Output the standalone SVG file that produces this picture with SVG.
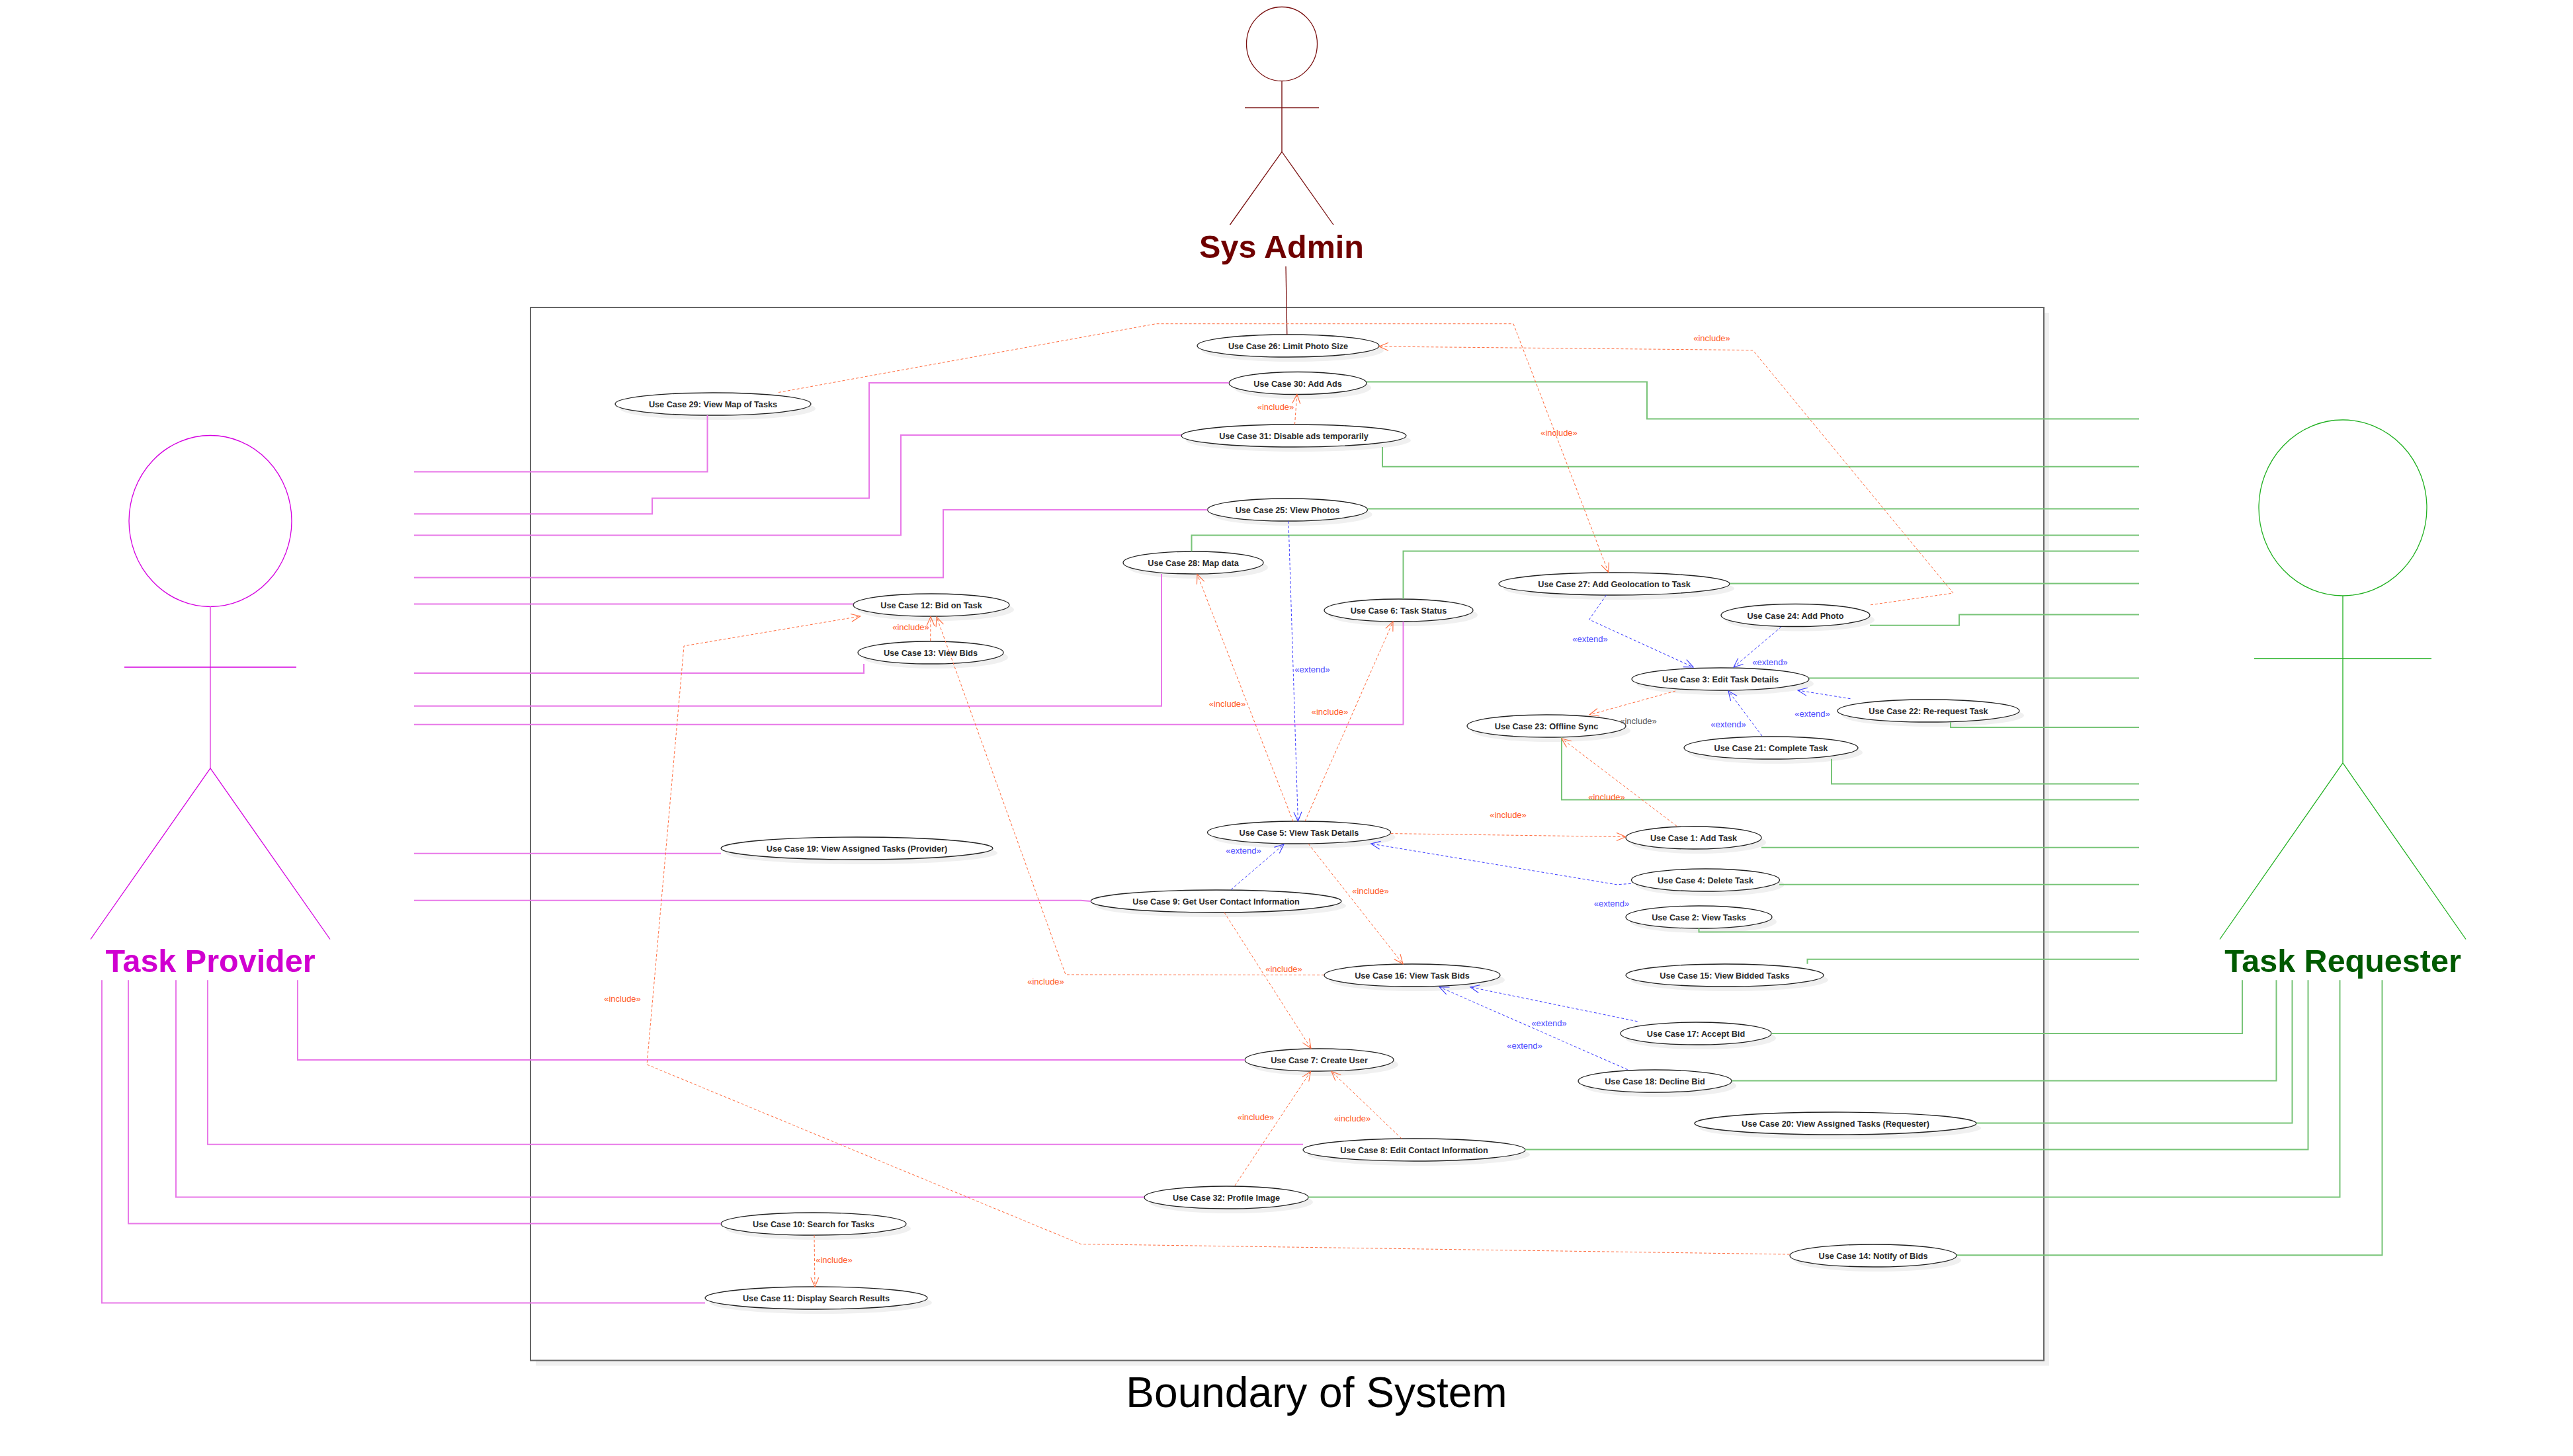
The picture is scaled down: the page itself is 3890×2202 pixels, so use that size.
<svg xmlns="http://www.w3.org/2000/svg" width="3890" height="2202" viewBox="0 0 3890 2202">
<style>
text{font-family:"Liberation Sans",Arial,sans-serif}
.uc{fill:#fff;stroke:#222;stroke-width:1.3}
.sh{fill:#f0f0f0;stroke:none}
.ut{font-size:12.7px;font-weight:bold;fill:#2a2a2a;text-anchor:middle}
.at{font-size:48.5px;font-weight:bold;text-anchor:middle}
.tp{fill:none;stroke:#e878e8;stroke-width:2}
.tr{fill:none;stroke:#78c478;stroke-width:2}
.inc{fill:none;stroke:#ff6a3c;stroke-width:1;stroke-dasharray:4 3;marker-end:url(#ao)}
.ext{fill:none;stroke:#3a3aff;stroke-width:1;stroke-dasharray:4 3;marker-end:url(#ab)}
.li{font-size:13px;fill:#ff5a28;text-anchor:middle}
.le{font-size:13px;fill:#4a4aff;text-anchor:middle}
.lg{font-size:13px;fill:#555;text-anchor:middle}
.a1{fill:none;stroke:#d400e0;stroke-width:1.3}
.a1b{fill:none;stroke:#e878e8;stroke-width:2}
.a2{fill:none;stroke:#20b020;stroke-width:1.3}
.a3{fill:none;stroke:#7a1010;stroke-width:1.3}
.a3b{fill:none;stroke:#a05858;stroke-width:2}
</style>
<defs>
<marker id="ao" markerUnits="userSpaceOnUse" markerWidth="18" markerHeight="16" viewBox="0 0 18 16" refX="15" refY="8" orient="auto" overflow="visible"><path d="M1,2 L15,8 L1,14" fill="none" stroke="#ff6a3c" stroke-width="1.1"/></marker>
<marker id="ab" markerUnits="userSpaceOnUse" markerWidth="18" markerHeight="16" viewBox="0 0 18 16" refX="15" refY="8" orient="auto" overflow="visible"><path d="M1,2 L15,8 L1,14" fill="none" stroke="#3a3aff" stroke-width="1.1"/></marker>
</defs>
<g id="boundary">
<rect x="810" y="473" width="2288" height="1592.500" fill="#f0f0f0"/>
<rect x="802" y="465" width="2288" height="1592.500" fill="#fff" stroke="#666" stroke-width="2"/>
<text x="1990.500" y="2128" font-size="64" fill="#000" text-anchor="middle">Boundary of System</text>
</g>
<g id="actor-task-provider">
<ellipse class="a1" cx="318" cy="788" rx="123" ry="129.500"/>
<path class="a1b" d="M318,917.500V1162"/><path class="a1" d="M188,1009H448M137,1420.500L318,1162L499,1420.500"/>
<text class="at" x="318" y="1470" fill="#d000d0">Task Provider</text>
</g>
<g id="actor-sys-admin">
<ellipse class="a3" cx="1938" cy="66.500" rx="53.500" ry="56"/>
<path class="a3b" d="M1938,122.500V229.500"/><path class="a3" d="M1882,162.800H1994M1859.500,340L1938,229.500L2016,340"/>
<text class="at" x="1937.500" y="390" fill="#6f0000">Sys Admin</text>
</g>
<g id="actor-task-requester">
<ellipse class="a2" cx="3542" cy="768" rx="127" ry="133"/>
<path class="a2" d="M3542,901V1154M3408,996H3676M3356,1420.500L3542,1154L3728,1420.500"/>
<text class="at" x="3542" y="1470" fill="#005a00">Task Requester</text>
</g>
<g id="uc26"><ellipse class="sh" cx="1954.500" cy="530" rx="137.500" ry="17"/><ellipse class="uc" cx="1947.500" cy="523" rx="137.500" ry="17"/><text class="ut" x="1947.500" y="528">Use Case 26: Limit Photo Size</text></g>
<g id="uc30"><ellipse class="sh" cx="1969" cy="586.500" rx="104" ry="17"/><ellipse class="uc" cx="1962" cy="579.500" rx="104" ry="17"/><text class="ut" x="1962" y="584.500">Use Case 30: Add Ads</text></g>
<g id="uc29"><ellipse class="sh" cx="1085" cy="618" rx="148" ry="17"/><ellipse class="uc" cx="1078" cy="611" rx="148" ry="17"/><text class="ut" x="1078" y="616">Use Case 29: View Map of Tasks</text></g>
<g id="uc31"><ellipse class="sh" cx="1963" cy="666" rx="170" ry="17"/><ellipse class="uc" cx="1956" cy="659" rx="170" ry="17"/><text class="ut" x="1956" y="664">Use Case 31: Disable ads temporarily</text></g>
<g id="uc25"><ellipse class="sh" cx="1953.500" cy="778" rx="121" ry="17"/><ellipse class="uc" cx="1946.500" cy="771" rx="121" ry="17"/><text class="ut" x="1946.500" y="776">Use Case 25: View Photos</text></g>
<g id="uc28"><ellipse class="sh" cx="1811" cy="858" rx="106" ry="17"/><ellipse class="uc" cx="1804" cy="851" rx="106" ry="17"/><text class="ut" x="1804" y="856">Use Case 28: Map data</text></g>
<g id="uc27"><ellipse class="sh" cx="2447.500" cy="890" rx="174.500" ry="17"/><ellipse class="uc" cx="2440.500" cy="883" rx="174.500" ry="17"/><text class="ut" x="2440.500" y="888">Use Case 27: Add Geolocation to Task</text></g>
<g id="uc12"><ellipse class="sh" cx="1415" cy="922" rx="118" ry="17"/><ellipse class="uc" cx="1408" cy="915" rx="118" ry="17"/><text class="ut" x="1408" y="920">Use Case 12: Bid on Task</text></g>
<g id="uc6"><ellipse class="sh" cx="2121.500" cy="930" rx="112.500" ry="17"/><ellipse class="uc" cx="2114.500" cy="923" rx="112.500" ry="17"/><text class="ut" x="2114.500" y="928">Use Case 6: Task Status</text></g>
<g id="uc24"><ellipse class="sh" cx="2721.500" cy="937.500" rx="112.500" ry="17"/><ellipse class="uc" cx="2714.500" cy="930.500" rx="112.500" ry="17"/><text class="ut" x="2714.500" y="935.500">Use Case 24: Add Photo</text></g>
<g id="uc13"><ellipse class="sh" cx="1414" cy="994" rx="110" ry="17"/><ellipse class="uc" cx="1407" cy="987" rx="110" ry="17"/><text class="ut" x="1407" y="992">Use Case 13: View Bids</text></g>
<g id="uc3"><ellipse class="sh" cx="2608" cy="1034" rx="134" ry="17"/><ellipse class="uc" cx="2601" cy="1027" rx="134" ry="17"/><text class="ut" x="2601" y="1032">Use Case 3: Edit Task Details</text></g>
<g id="uc22"><ellipse class="sh" cx="2922.500" cy="1082" rx="137.500" ry="17"/><ellipse class="uc" cx="2915.500" cy="1075" rx="137.500" ry="17"/><text class="ut" x="2915.500" y="1080">Use Case 22: Re-request Task</text></g>
<g id="uc23"><ellipse class="sh" cx="2345" cy="1105" rx="120" ry="17"/><ellipse class="uc" cx="2338" cy="1098" rx="120" ry="17"/><text class="ut" x="2338" y="1103">Use Case 23: Offline Sync</text></g>
<g id="uc21"><ellipse class="sh" cx="2684.500" cy="1138" rx="131.500" ry="17"/><ellipse class="uc" cx="2677.500" cy="1131" rx="131.500" ry="17"/><text class="ut" x="2677.500" y="1136">Use Case 21: Complete Task</text></g>
<g id="uc5"><ellipse class="sh" cx="1971" cy="1266" rx="138.500" ry="17"/><ellipse class="uc" cx="1964" cy="1259" rx="138.500" ry="17"/><text class="ut" x="1964" y="1264">Use Case 5: View Task Details</text></g>
<g id="uc1"><ellipse class="sh" cx="2567.500" cy="1274" rx="102.500" ry="17"/><ellipse class="uc" cx="2560.500" cy="1267" rx="102.500" ry="17"/><text class="ut" x="2560.500" y="1272">Use Case 1: Add Task</text></g>
<g id="uc19"><ellipse class="sh" cx="1302.500" cy="1290" rx="205.500" ry="17"/><ellipse class="uc" cx="1295.500" cy="1283" rx="205.500" ry="17"/><text class="ut" x="1295.500" y="1288">Use Case 19: View Assigned Tasks (Provider)</text></g>
<g id="uc4"><ellipse class="sh" cx="2585.500" cy="1338" rx="112" ry="17"/><ellipse class="uc" cx="2578.500" cy="1331" rx="112" ry="17"/><text class="ut" x="2578.500" y="1336">Use Case 4: Delete Task</text></g>
<g id="uc9"><ellipse class="sh" cx="1845.500" cy="1370" rx="189.500" ry="17"/><ellipse class="uc" cx="1838.500" cy="1363" rx="189.500" ry="17"/><text class="ut" x="1838.500" y="1368">Use Case 9: Get User Contact Information</text></g>
<g id="uc2"><ellipse class="sh" cx="2575.500" cy="1394" rx="110.500" ry="17"/><ellipse class="uc" cx="2568.500" cy="1387" rx="110.500" ry="17"/><text class="ut" x="2568.500" y="1392">Use Case 2: View Tasks</text></g>
<g id="uc15"><ellipse class="sh" cx="2614.500" cy="1482" rx="149.500" ry="17"/><ellipse class="uc" cx="2607.500" cy="1475" rx="149.500" ry="17"/><text class="ut" x="2607.500" y="1480">Use Case 15: View Bidded Tasks</text></g>
<g id="uc16"><ellipse class="sh" cx="2142" cy="1482" rx="133" ry="17"/><ellipse class="uc" cx="2135" cy="1475" rx="133" ry="17"/><text class="ut" x="2135" y="1480">Use Case 16: View Task Bids</text></g>
<g id="uc17"><ellipse class="sh" cx="2571" cy="1570" rx="114" ry="17"/><ellipse class="uc" cx="2564" cy="1563" rx="114" ry="17"/><text class="ut" x="2564" y="1568">Use Case 17: Accept Bid</text></g>
<g id="uc7"><ellipse class="sh" cx="2001.500" cy="1610" rx="112.500" ry="17"/><ellipse class="uc" cx="1994.500" cy="1603" rx="112.500" ry="17"/><text class="ut" x="1994.500" y="1608">Use Case 7: Create User</text></g>
<g id="uc18"><ellipse class="sh" cx="2509" cy="1642" rx="116" ry="17"/><ellipse class="uc" cx="2502" cy="1635" rx="116" ry="17"/><text class="ut" x="2502" y="1640">Use Case 18: Decline Bid</text></g>
<g id="uc20"><ellipse class="sh" cx="2782" cy="1706" rx="213" ry="17"/><ellipse class="uc" cx="2775" cy="1699" rx="213" ry="17"/><text class="ut" x="2775" y="1704">Use Case 20: View Assigned Tasks (Requester)</text></g>
<g id="uc8"><ellipse class="sh" cx="2145" cy="1746" rx="168" ry="17"/><ellipse class="uc" cx="2138" cy="1739" rx="168" ry="17"/><text class="ut" x="2138" y="1744">Use Case 8: Edit Contact Information</text></g>
<g id="uc32"><ellipse class="sh" cx="1861" cy="1818" rx="124" ry="17"/><ellipse class="uc" cx="1854" cy="1811" rx="124" ry="17"/><text class="ut" x="1854" y="1816">Use Case 32: Profile Image</text></g>
<g id="uc10"><ellipse class="sh" cx="1237" cy="1858" rx="140" ry="17"/><ellipse class="uc" cx="1230" cy="1851" rx="140" ry="17"/><text class="ut" x="1230" y="1856">Use Case 10: Search for Tasks</text></g>
<g id="uc14"><ellipse class="sh" cx="2839" cy="1906" rx="126" ry="17"/><ellipse class="uc" cx="2832" cy="1899" rx="126" ry="17"/><text class="ut" x="2832" y="1904">Use Case 14: Notify of Bids</text></g>
<g id="uc11"><ellipse class="sh" cx="1241" cy="1970" rx="168" ry="17"/><ellipse class="uc" cx="1234" cy="1963" rx="168" ry="17"/><text class="ut" x="1234" y="1968">Use Case 11: Display Search Results</text></g>
<g id="connectors">
<path class="a3b" style="stroke-width:1.300;stroke:#7a1010" d="M1944,402.700L1945.800,506"/>
<g id="provider-links">
<path class="tp" d="M626,713.500H1069.500V628"/>
<path class="tp" d="M626,777.300H986V753.400H1314V579H1858"/>
<path class="tp" d="M626,809.600H1362V658H1786"/>
<path class="tp" d="M626,873.400H1426V771H1825.500"/>
<path class="tp" d="M626,913.400H1290"/>
<path class="tp" d="M626,1018H1306V1004"/>
<path class="tp" d="M626,1067.700H1756V868"/>
<path class="tp" d="M626,1095.800H2121.500V940"/>
<path class="tp" d="M626,1290.800H1090"/>
<path class="tp" d="M626,1361.700H1634L1649,1363"/>
<path class="tp" d="M450,1482.300V1603H1882"/>
<path class="tp" d="M314,1482.300V1730.700H1970"/>
<path class="tp" d="M266,1482.300V1810.600H1730"/>
<path class="tp" d="M194,1482.300V1850.600H1090"/>
<path class="tp" d="M154,1482.300V1970.600H1066"/>
</g>
<g id="requester-links">
<path class="tr" d="M2066,577.400H2490V633.500H3234"/>
<path class="tr" d="M2090,676V705.700H3234"/>
<path class="tr" d="M2067.500,769.600H3234"/>
<path class="tr" d="M1801.500,834V809.600H3234"/>
<path class="tr" d="M2121.500,905.700V833.400H3234"/>
<path class="tr" d="M2615,882.500H3234"/>
<path class="tr" d="M2827,945.700H2962V929.500H3234"/>
<path class="tr" d="M2735,1025.600H3234"/>
<path class="tr" d="M2949,1092V1100H3234"/>
<path class="tr" d="M2769,1147.700V1185.600H3234"/>
<path class="tr" d="M2361,1115V1209.400H3234"/>
<path class="tr" d="M2663,1281.700H3234"/>
<path class="tr" d="M2690,1337.800H3234"/>
<path class="tr" d="M2568.500,1403.800V1409.400H3234"/>
<path class="tr" d="M2732.500,1457.800V1450.800H3234"/>
<path class="tr" d="M2678,1563H3390V1482.300"/>
<path class="tr" d="M2618,1634.600H3441.500V1482.300"/>
<path class="tr" d="M2988,1698.400H3465.500V1482.300"/>
<path class="tr" d="M2306,1738.400H3489.500V1482.300"/>
<path class="tr" d="M1978,1810.600H3537.500V1482.300"/>
<path class="tr" d="M2958,1898.300H3601.500V1482.300"/>
</g>
<g id="include-links">
<path class="inc" d="M1177,593.500L1747.700,489.700H2288L2431.700,865.700"/>
<path class="inc" d="M2828,914.800L2953,897L2650,529.600L2085,524"/>
<path class="inc" d="M1957.500,642L1960.800,596.300"/>
<path class="inc" d="M1406.700,969.300L1407,932.700"/>
<path class="inc" d="M2002,1474.600L1611,1474L1416,933"/>
<path class="inc" d="M2706,1897L1634,1881.500L978,1610L1034,977L1300.700,932"/>
<path class="inc" d="M1955,1242.400L1810,868.500"/>
<path class="inc" d="M1973,1242L2106,940"/>
<path class="inc" d="M2102.500,1260.600L2458,1265.600"/>
<path class="inc" d="M1978,1276L2121,1457.800"/>
<path class="inc" d="M1851,1380L1982,1585.500"/>
<path class="inc" d="M2119,1722L2013,1620.500"/>
<path class="inc" d="M1867,1793L1981.500,1620.500"/>
<path class="inc" d="M1231,1868L1232,1946"/>
<path class="inc" d="M2533,1045L2403,1081"/>
<path class="inc" d="M2535,1249.400L2361,1117"/>
</g>
<g id="extend-links">
<path class="ext" d="M1948,788L1962.400,1242"/>
<path class="ext" d="M2428.400,900L2402.700,937L2560,1009"/>
<path class="ext" d="M2693,948L2621,1009"/>
<path class="ext" d="M2797.500,1056.700L2718,1044"/>
<path class="ext" d="M2664,1113L2613,1045"/>
<path class="ext" d="M1861,1345.500L1941,1276.800"/>
<path class="ext" d="M2465.700,1336.400L2444,1337.800L2072.700,1276"/>
<path class="ext" d="M2475.600,1544.800L2222.800,1492.800"/>
<path class="ext" d="M2460.700,1617.700L2176.300,1492.800"/>
</g>
<g id="connector-labels">
<text class="li" x="2357" y="659">«include»</text>
<text class="li" x="2588" y="516">«include»</text>
<text class="li" x="1928.500" y="620">«include»</text>
<text class="li" x="1377" y="953">«include»</text>
<text class="li" x="1581" y="1488.500">«include»</text>
<text class="li" x="941" y="1514.500">«include»</text>
<text class="li" x="1855.500" y="1068.500">«include»</text>
<text class="li" x="2010.500" y="1081">«include»</text>
<text class="li" x="2280" y="1236.500">«include»</text>
<text class="li" x="2072" y="1352">«include»</text>
<text class="li" x="1941" y="1470">«include»</text>
<text class="li" x="2044.500" y="1696">«include»</text>
<text class="li" x="1898.500" y="1693.500">«include»</text>
<text class="li" x="1261" y="1909.500">«include»</text>
<text class="li" x="2429" y="1209.500">«include»</text>
<text class="lg" x="2477" y="1095">«include»</text>
<text class="le" x="1984" y="1016.500">«extend»</text>
<text class="le" x="2404" y="971">«extend»</text>
<text class="le" x="2676" y="1006">«extend»</text>
<text class="le" x="2740" y="1084">«extend»</text>
<text class="le" x="2613" y="1100">«extend»</text>
<text class="le" x="1880" y="1291">«extend»</text>
<text class="le" x="2436.500" y="1371">«extend»</text>
<text class="le" x="2342" y="1552">«extend»</text>
<text class="le" x="2305" y="1585.500">«extend»</text>
</g>
</g>
</svg>
